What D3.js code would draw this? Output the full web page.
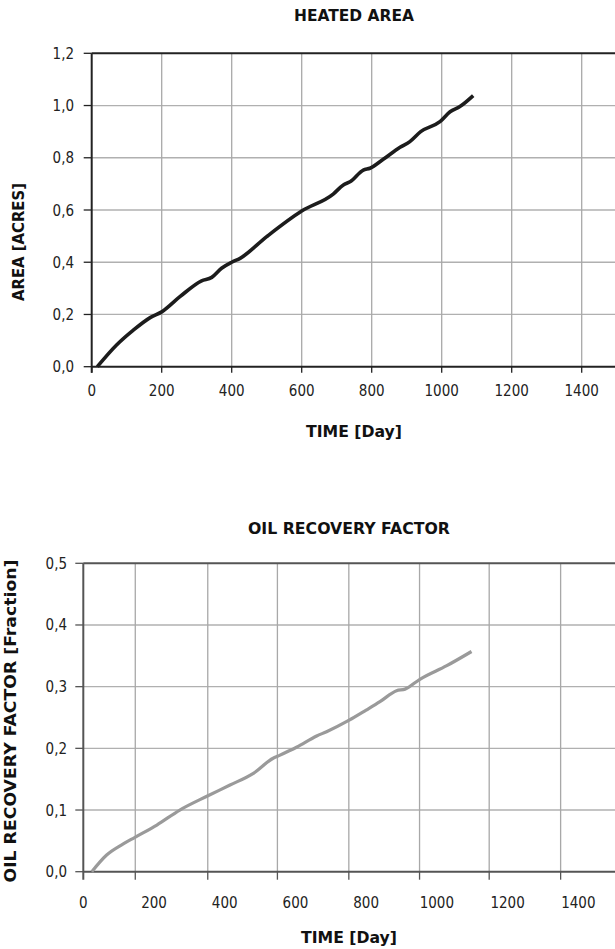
<!DOCTYPE html>
<html><head><meta charset="utf-8">
<script src="https://cdn.jsdelivr.net/npm/d3@7"></script>
<style>
html,body{margin:0;padding:0;background:#fff;}
svg{display:block;}
text{font-family:"DejaVu Sans",Verdana,sans-serif;}
text.tk{font-family:"DejaVu Sans Condensed","DejaVu Sans",sans-serif;}
</style></head>
<body>
<svg id="c" width="615" height="949"></svg>
<script>
// ---- data ----
const xTicks = [0,200,400,600,800,1000,1200,1400];
const areaTicks = [0,0.2,0.4,0.6,0.8,1.0,1.2];
const rfTicks = [0,0.1,0.2,0.3,0.4,0.5];
const areaDays = [16,71,119,167,200,252,314,343,371,400,424,500,600,690,719,738,776,795,833,881,909,940,995,1024,1052,1090];
const areaVals = [0,0.083,0.14,0.188,0.21,0.268,0.329,0.342,0.377,0.40,0.415,0.498,0.596,0.661,0.696,0.708,0.753,0.760,0.794,0.840,0.862,0.900,0.938,0.976,0.996,1.038];
const rfDays = [24,66,113,146,208,273,351,415,481,537,551,603,660,688,752,800,839,886,910,952,1028,1098];
const rfVals = [0,0.027,0.045,0.0557,0.0757,0.100,0.1227,0.1405,0.1595,0.184,0.1876,0.2017,0.22,0.227,0.2457,0.262,0.2756,0.2934,0.296,0.312,0.334,0.357];
const rfGridDays = [147,352,549,751,951,1148,1350];

const svg = d3.select("#c");
const fmt = v => v.toFixed(1).replace(".", ",");

function chart(o){
  const g = svg.append("g");
  const x = d3.scaleLinear().domain([0,1400]).range([o.left, o.x1400]);
  const y = d3.scaleLinear().domain([0,o.ymax]).range([o.bottom, o.top]);
  const right = 615;
  g.selectAll(".hg").data(o.yTicks.filter(v=>v>0 && v<o.ymax)).join("line")
    .attr("x1",o.left).attr("x2",right).attr("y1",d=>y(d)).attr("y2",d=>y(d))
    .attr("stroke","#b0b0b0").attr("stroke-width",1.3);
  g.selectAll(".vg").data(o.gridDays).join("line")
    .attr("x1",d=>x(d)).attr("x2",d=>x(d)).attr("y1",o.top).attr("y2",o.bottom)
    .attr("stroke","#a8a8a8").attr("stroke-width",1.3);
  g.selectAll(".xt").data(o.tickDays).join("line")
    .attr("x1",d=>x(d)).attr("x2",d=>x(d)).attr("y1",o.bottom).attr("y2",o.bottom+o.xTickLen)
    .attr("stroke",o.axisColor).attr("stroke-width",1.3);
  g.selectAll(".yt").data(o.yTicks).join("line")
    .attr("x1",o.left-o.yTickLen).attr("x2",o.left).attr("y1",d=>y(d)).attr("y2",d=>y(d))
    .attr("stroke",o.axisColor).attr("stroke-width",1.3);
  g.append("line").attr("x1",o.left).attr("x2",right).attr("y1",o.bottom).attr("y2",o.bottom)
    .attr("stroke",o.axisColor).attr("stroke-width",2);
  g.append("line").attr("x1",o.left).attr("x2",right).attr("y1",o.top).attr("y2",o.top)
    .attr("stroke",o.axisColor).attr("stroke-width",2);
  g.append("line").attr("x1",o.left).attr("x2",o.left).attr("y1",o.top).attr("y2",o.bottom+o.xTickLen)
    .attr("stroke",o.axisColor).attr("stroke-width",2);
  const pts = o.days.map((d,i)=>[d,o.vals[i]]);
  g.append("path").datum(pts)
    .attr("d", d3.line().x(d=>x(d[0])).y(d=>y(d[1])).curve(d3.curveMonotoneX))
    .attr("fill","none").attr("stroke",o.lineColor).attr("stroke-width",o.lineWidth)
    .attr("stroke-linecap","butt").attr("stroke-linejoin","round");
  g.selectAll(".yl").data(o.yTicks).join("text").attr("class","tk")
    .attr("x",o.yLabelRight).attr("y",d=>y(d)+5.5).attr("text-anchor","end")
    .attr("font-size",15).attr("fill","#222").text(fmt);
  g.selectAll(".xl").data(xTicks).join("text").attr("class","tk")
    .attr("x",d=>x(d)).attr("y",o.xLabelBase).attr("text-anchor","middle")
    .attr("font-size",15).attr("fill","#222").text(d=>d);
  g.append("text").attr("x",o.titleX).attr("y",o.titleBase).attr("text-anchor","middle")
    .attr("font-size",15).attr("font-weight","bold").attr("fill","#111")
    .attr("textLength",o.titleLen).attr("lengthAdjust","spacingAndGlyphs").text(o.title);
  g.append("text").attr("x",o.xTitleX).attr("y",o.xTitleBase).attr("text-anchor","middle")
    .attr("font-size",15).attr("font-weight","bold").attr("fill","#111")
    .attr("textLength",96).attr("lengthAdjust","spacingAndGlyphs").text("TIME [Day]");
  g.append("text").attr("transform",`translate(${o.yTitleX},${o.yTitleY}) rotate(-90)`)
    .attr("text-anchor","middle").attr("font-size",15).attr("font-weight","bold").attr("fill","#111")
    .attr("textLength",o.yTitleLen).attr("lengthAdjust","spacingAndGlyphs").text(o.yTitle);
}

chart({left:91.7, x1400:581.7, top:53.3, bottom:366.7, ymax:1.2, yTicks:areaTicks,
  gridDays:[200,400,600,800,1000,1200,1400], tickDays:[0,200,400,600,800,1000,1200,1400],
  xTickLen:6, yTickLen:8, axisColor:"#222", days:areaDays, vals:areaVals,
  lineColor:"#1c1c1c", lineWidth:3.6, yLabelRight:74, xLabelBase:396,
  title:"HEATED AREA", titleX:354, titleBase:21, titleLen:120,
  xTitleX:354, xTitleBase:437, yTitle:"AREA [ACRES]", yTitleX:24, yTitleY:242, yTitleLen:118});

chart({left:83.3, x1400:578.3, top:563.3, bottom:871.7, ymax:0.5, yTicks:rfTicks,
  gridDays:rfGridDays, tickDays:rfGridDays,
  xTickLen:8, yTickLen:8, axisColor:"#555", days:rfDays, vals:rfVals,
  lineColor:"#9a9a9a", lineWidth:3.2, yLabelRight:67, xLabelBase:908,
  title:"OIL RECOVERY FACTOR", titleX:349, titleBase:534, titleLen:202,
  xTitleX:349, xTitleBase:943, yTitle:"OIL RECOVERY FACTOR [Fraction]", yTitleX:16, yTitleY:721, yTitleLen:323});
</script>
</body></html>
